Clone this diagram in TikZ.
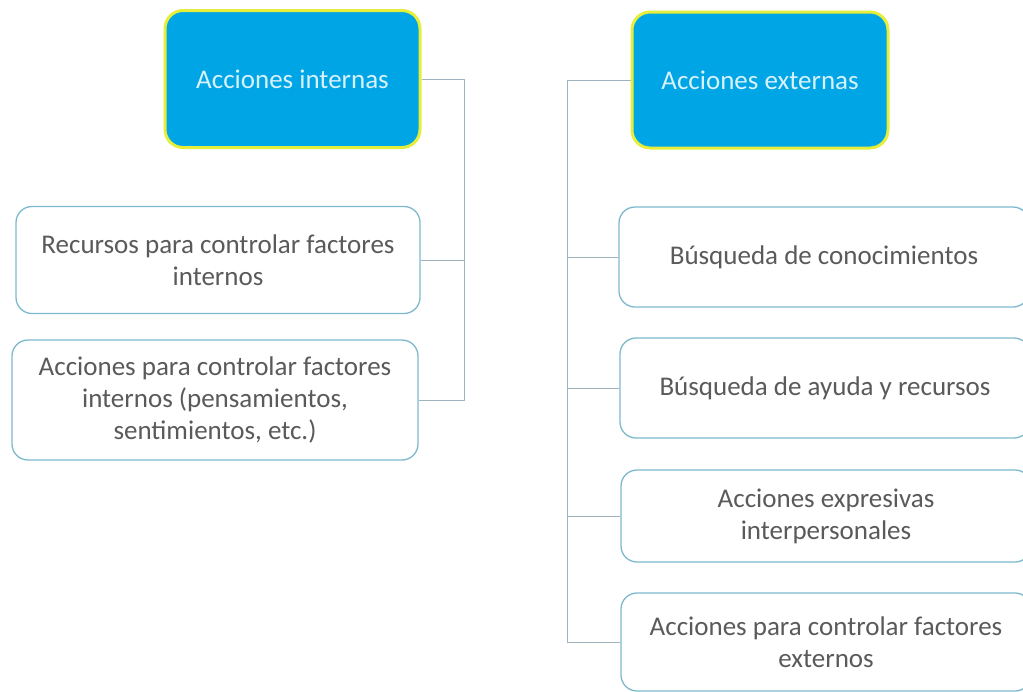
\documentclass[tikz,border=0pt]{standalone}
\usepackage{fontspec}
\setmainfont{Carlito}
\definecolor{hdrfill}{HTML}{00A5E5}
\definecolor{hdredge}{HTML}{E6EE3C}
\definecolor{hdrtext}{HTML}{D8F2FC}
\definecolor{boxedge}{HTML}{7DB9CC}
\definecolor{txt}{HTML}{5A5A5A}
\definecolor{conn}{HTML}{9FB3BF}
\tikzset{
  hdr/.style={draw=hdredge, line width=3pt, fill=hdrfill, rounded corners=18pt,
    text=hdrtext, font=\fontsize{27}{32}\selectfont, align=center, inner sep=0pt},
  itembox/.style={draw=boxedge, line width=1.3pt, fill=white, rounded corners=16pt,
    text=txt, font=\fontsize{27}{32}\selectfont, align=center, inner sep=0pt},
  conline/.style={draw=conn, line width=1pt}
}
\begin{document}
\begin{tikzpicture}[x=1pt,y=-1pt]
\useasboundingbox (0,0) rectangle (1023,691);
% headers
\node[hdr, minimum width=255pt, minimum height=137pt] (hi) at (292.5,79) {Acciones internas};
\node[hdr, minimum width=256pt, minimum height=136pt] (he) at (760,80) {Acciones externas};
% left items
\node[itembox, minimum width=404pt, minimum height=107pt] (l1) at (218,260) {Recursos para controlar factores\\internos};
\node[itembox, minimum width=406pt, minimum height=120pt] (l2) at (215,400) {Acciones para controlar factores\\internos (pensamientos,\\sentimientos, etc.)};
% right items
\node[itembox, minimum width=410pt, minimum height=100pt] (r1) at (824,257) {Búsqueda de conocimientos};
\node[itembox, minimum width=410pt, minimum height=100pt] (r2) at (825,388) {Búsqueda de ayuda y recursos};
\node[itembox, minimum width=410pt, minimum height=92pt] (r3) at (826,516) {Acciones expresivas\\interpersonales};
\node[itembox, minimum width=410pt, minimum height=98pt] (r4) at (826,642) {Acciones para controlar factores\\externos};
% connectors left
\coordinate (lbus) at (464,79);
\draw[conline] (hi.east) -- (lbus) -- (lbus |- l2.east) -- (l2.east);
\draw[conline] (lbus |- l1.east) -- (l1.east);
% connectors right
\coordinate (rbus) at (567,80);
\draw[conline] (he.west) -- (rbus) -- (rbus |- r4.west) -- (r4.west);
\draw[conline] (rbus |- r1.west) -- (r1.west);
\draw[conline] (rbus |- r2.west) -- (r2.west);
\draw[conline] (rbus |- r3.west) -- (r3.west);
\end{tikzpicture}
\end{document}
